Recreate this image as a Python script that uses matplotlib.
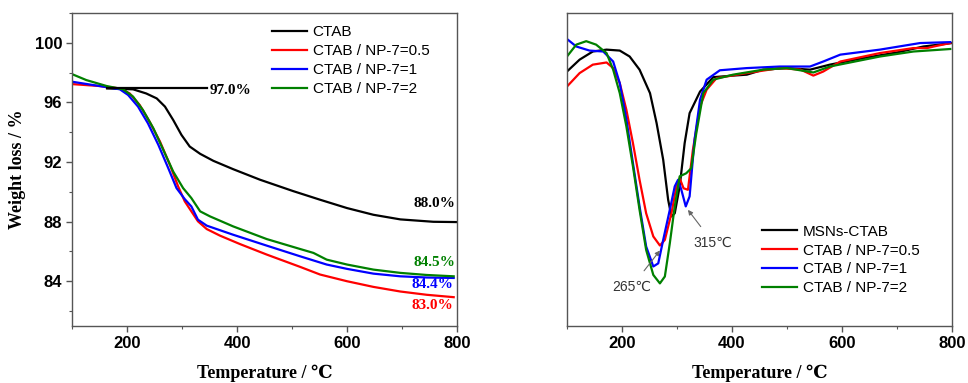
import matplotlib.pyplot as plt

# ---------------- TG data (left) ----------------
t_ctab = [164, 211, 235, 254, 269, 284, 299, 314, 333, 357, 393, 442, 502, 551, 600, 648, 697, 757, 800]
w_ctab = [96.94, 96.88, 96.6, 96.27, 95.72, 94.82, 93.82, 93.04, 92.55, 92.08, 91.52, 90.81, 90.05,
          89.47, 88.91, 88.46, 88.15, 87.99, 87.97]

t_05 = [100, 150, 187, 205, 223, 241, 260, 278, 293, 305, 317, 329, 345, 369, 405, 454, 515, 551,
        600, 648, 697, 745, 794]
w_05 = [97.23, 97.1, 96.94, 96.6, 95.83, 94.71, 93.37, 91.81, 90.36, 89.36, 88.69, 88.02, 87.5,
        87.06, 86.5, 85.79, 84.96, 84.45, 84.0, 83.62, 83.31, 83.09, 82.93]

t_1 = [100, 150, 187, 202, 220, 238, 257, 275, 290, 305, 317, 329, 345, 393, 454, 515, 563, 600,
       648, 697, 745, 794]
w_1 = [97.39, 97.1, 96.88, 96.5, 95.72, 94.6, 93.15, 91.59, 90.25, 89.51, 89.02, 88.13, 87.73,
       87.12, 86.39, 85.67, 85.12, 84.83, 84.51, 84.33, 84.25, 84.22]

t_2 = [100, 126, 163, 193, 211, 229, 248, 266, 284, 302, 317, 333, 351, 393, 454, 515, 539, 563,
       600, 648, 697, 745, 794]
w_2 = [97.9, 97.5, 97.1, 96.88, 96.39, 95.49, 94.26, 92.81, 91.36, 90.25, 89.58, 88.69, 88.35,
       87.68, 86.83, 86.16, 85.9, 85.45, 85.12, 84.78, 84.56, 84.42, 84.33]

# ---------------- DTG data (right, arbitrary units) ----------------
d_t_ctab = [100, 123, 147, 172, 196, 214, 232, 251, 263, 275, 284, 290, 296, 305, 314, 323, 342,
            366, 402, 427, 457, 500, 542, 578, 639, 700, 748, 800]
d_ctab = [81.3, 85.1, 87.7, 88.3, 88.0, 86.1, 81.9, 74.4, 64.8, 53.1, 40.3, 35.0, 36.0, 44.6, 58.4,
          68.0, 74.9, 79.5, 80.0, 80.3, 81.9, 82.4, 81.9, 83.5, 85.6, 87.4, 89.3, 90.4]

d_t_05 = [100, 123, 147, 172, 184, 196, 208, 220, 232, 244, 257, 269, 278, 290, 299, 305, 312, 320,
          329, 342, 354, 372, 427, 487, 525, 548, 566, 597, 669, 730, 755, 767, 797]
d_05 = [76.5, 80.8, 83.5, 84.2, 82.4, 77.6, 69.1, 58.4, 46.7, 36.0, 28.6, 25.7, 27.5, 36.0, 44.6,
        47.2, 44.0, 43.5, 56.3, 70.1, 75.5, 79.2, 80.8, 82.4, 81.9, 80.0, 81.3, 84.5, 87.2, 88.8,
        88.8, 89.3, 90.4]

d_t_1 = [100, 117, 141, 166, 184, 196, 208, 220, 232, 244, 257, 266, 275, 287, 296, 302, 308, 316,
         323, 332, 342, 354, 378, 427, 487, 542, 566, 597, 669, 742, 797]
d_1 = [91.7, 89.3, 88.0, 87.7, 84.5, 77.6, 66.1, 52.0, 38.2, 25.4, 19.0, 20.0, 27.5, 37.1, 44.6,
       46.7, 43.5, 38.2, 41.4, 59.5, 72.3, 78.7, 81.7, 82.4, 82.9, 82.9, 84.5, 86.7, 88.3, 90.4, 90.7]

d_t_2 = [100, 117, 135, 153, 172, 184, 196, 208, 220, 232, 244, 257, 269, 278, 287, 296, 305, 317,
         326, 335, 348, 366, 402, 457, 500, 548, 578, 669, 730, 797]
d_2 = [86.1, 89.9, 91.0, 89.9, 87.2, 81.9, 74.4, 63.8, 51.0, 37.1, 24.3, 16.3, 13.6, 15.8, 26.4,
       38.2, 47.8, 48.8, 50.4, 61.4, 74.4, 78.7, 80.3, 81.9, 82.4, 81.0, 82.9, 86.1, 87.7, 88.5]

labels_left = ["CTAB", "CTAB / NP-7=0.5", "CTAB / NP-7=1", "CTAB / NP-7=2"]
labels_right = ["MSNs-CTAB", "CTAB / NP-7=0.5", "CTAB / NP-7=1", "CTAB / NP-7=2"]
colors = ["black", "#ff0000", "#0000ff", "#008000"]

serif = ["Liberation Serif", "DejaVu Serif"]
sans = ["Liberation Sans", "DejaVu Sans"]

fig = plt.figure(figsize=(9.68, 3.83), dpi=100)
ax1 = fig.add_axes([0.0744, 0.149, 0.3977, 0.817])
ax2 = fig.add_axes([0.5857, 0.149, 0.3977, 0.817])

lw = 1.6
ax1.plot(t_ctab, w_ctab, color=colors[0], lw=lw, label=labels_left[0])
ax1.plot(t_05, w_05, color=colors[1], lw=lw, label=labels_left[1])
ax1.plot(t_1, w_1, color=colors[2], lw=lw, label=labels_left[2])
ax1.plot(t_2, w_2, color=colors[3], lw=lw, label=labels_left[3])
ax1.plot([164, 345], [96.94, 96.94], color="black", lw=lw)

ax1.set_xlim(100, 800)
ax1.set_ylim(81, 102)
ax1.set_xticks([200, 400, 600, 800])
ax1.set_xticks([100, 300, 500, 700], minor=True)
ax1.set_yticks([84, 88, 92, 96, 100])
ax1.set_yticks([82, 86, 90, 94, 98, 102], minor=True)

tb = dict(family=serif, fontweight="bold", fontsize=11)
ax1.text(351, 96.83, "97.0%", ha="left", va="center", color="black", **tb)
ax1.text(797, 89.2, "88.0%", ha="right", va="center", color="black", **tb)
ax1.text(797, 85.23, "84.5%", ha="right", va="center", color=colors[3], **tb)
ax1.text(794, 83.78, "84.4%", ha="right", va="center", color=colors[2], **tb)
ax1.text(794, 82.37, "83.0%", ha="right", va="center", color=colors[1], **tb)

ax1.set_ylabel("Weight loss / %", family=serif, fontweight="bold", fontsize=13, labelpad=6)

leg_kw = dict(frameon=False, prop=dict(family=sans, size=11), handlelength=2.3,
              handletextpad=0.35, labelspacing=0.32, borderaxespad=0.0, borderpad=0.4)
ax1.legend(loc="upper left", bbox_to_anchor=(0.504, 0.98), **leg_kw)

ax2.plot(d_t_ctab, d_ctab, color=colors[0], lw=lw, label=labels_right[0])
ax2.plot(d_t_05, d_05, color=colors[1], lw=lw, label=labels_right[1])
ax2.plot(d_t_1, d_1, color=colors[2], lw=lw, label=labels_right[2])
ax2.plot(d_t_2, d_2, color=colors[3], lw=lw, label=labels_right[3])

ax2.set_xlim(100, 800)
ax2.set_ylim(0, 100)
ax2.set_xticks([200, 400, 600, 800])
ax2.set_xticks([100, 300, 500, 700], minor=True)
ax2.set_yticks([])

ann = dict(family=["Liberation Sans", "DejaVu Sans"], fontsize=10, color="#333333")
ax2.annotate("315℃", xy=(320, 37.1), xytext=(366, 26.5), ha="center", va="center",
             arrowprops=dict(arrowstyle="-|>", color="#666666", lw=0.8, mutation_scale=7,
                             shrinkA=6, shrinkB=0), **ann)
ax2.annotate("265℃", xy=(269, 24.1), xytext=(217, 12.4), ha="center", va="center",
             arrowprops=dict(arrowstyle="-|>", color="#666666", lw=0.8, mutation_scale=7,
                             shrinkA=6, shrinkB=0), **ann)

ax2.legend(loc="upper left", bbox_to_anchor=(0.491, 0.343), **leg_kw)

for ax in (ax1, ax2):
    ax.set_xlabel("Temperature / ℃", family=serif, fontweight="bold", fontsize=13, labelpad=10)
    for s in ax.spines.values():
        s.set_color("#555555")
        s.set_linewidth(1.0)
    ax.tick_params(which="major", direction="out", length=4, width=1, color="#555555",
                   labelsize=12, pad=3)
    ax.tick_params(which="minor", direction="out", length=2.5, width=0.8, color="#555555")
    for lab in ax.get_xticklabels() + ax.get_yticklabels():
        lab.set_fontweight("bold")
        lab.set_family(sans)

fig.savefig("out.png", dpi=100)
